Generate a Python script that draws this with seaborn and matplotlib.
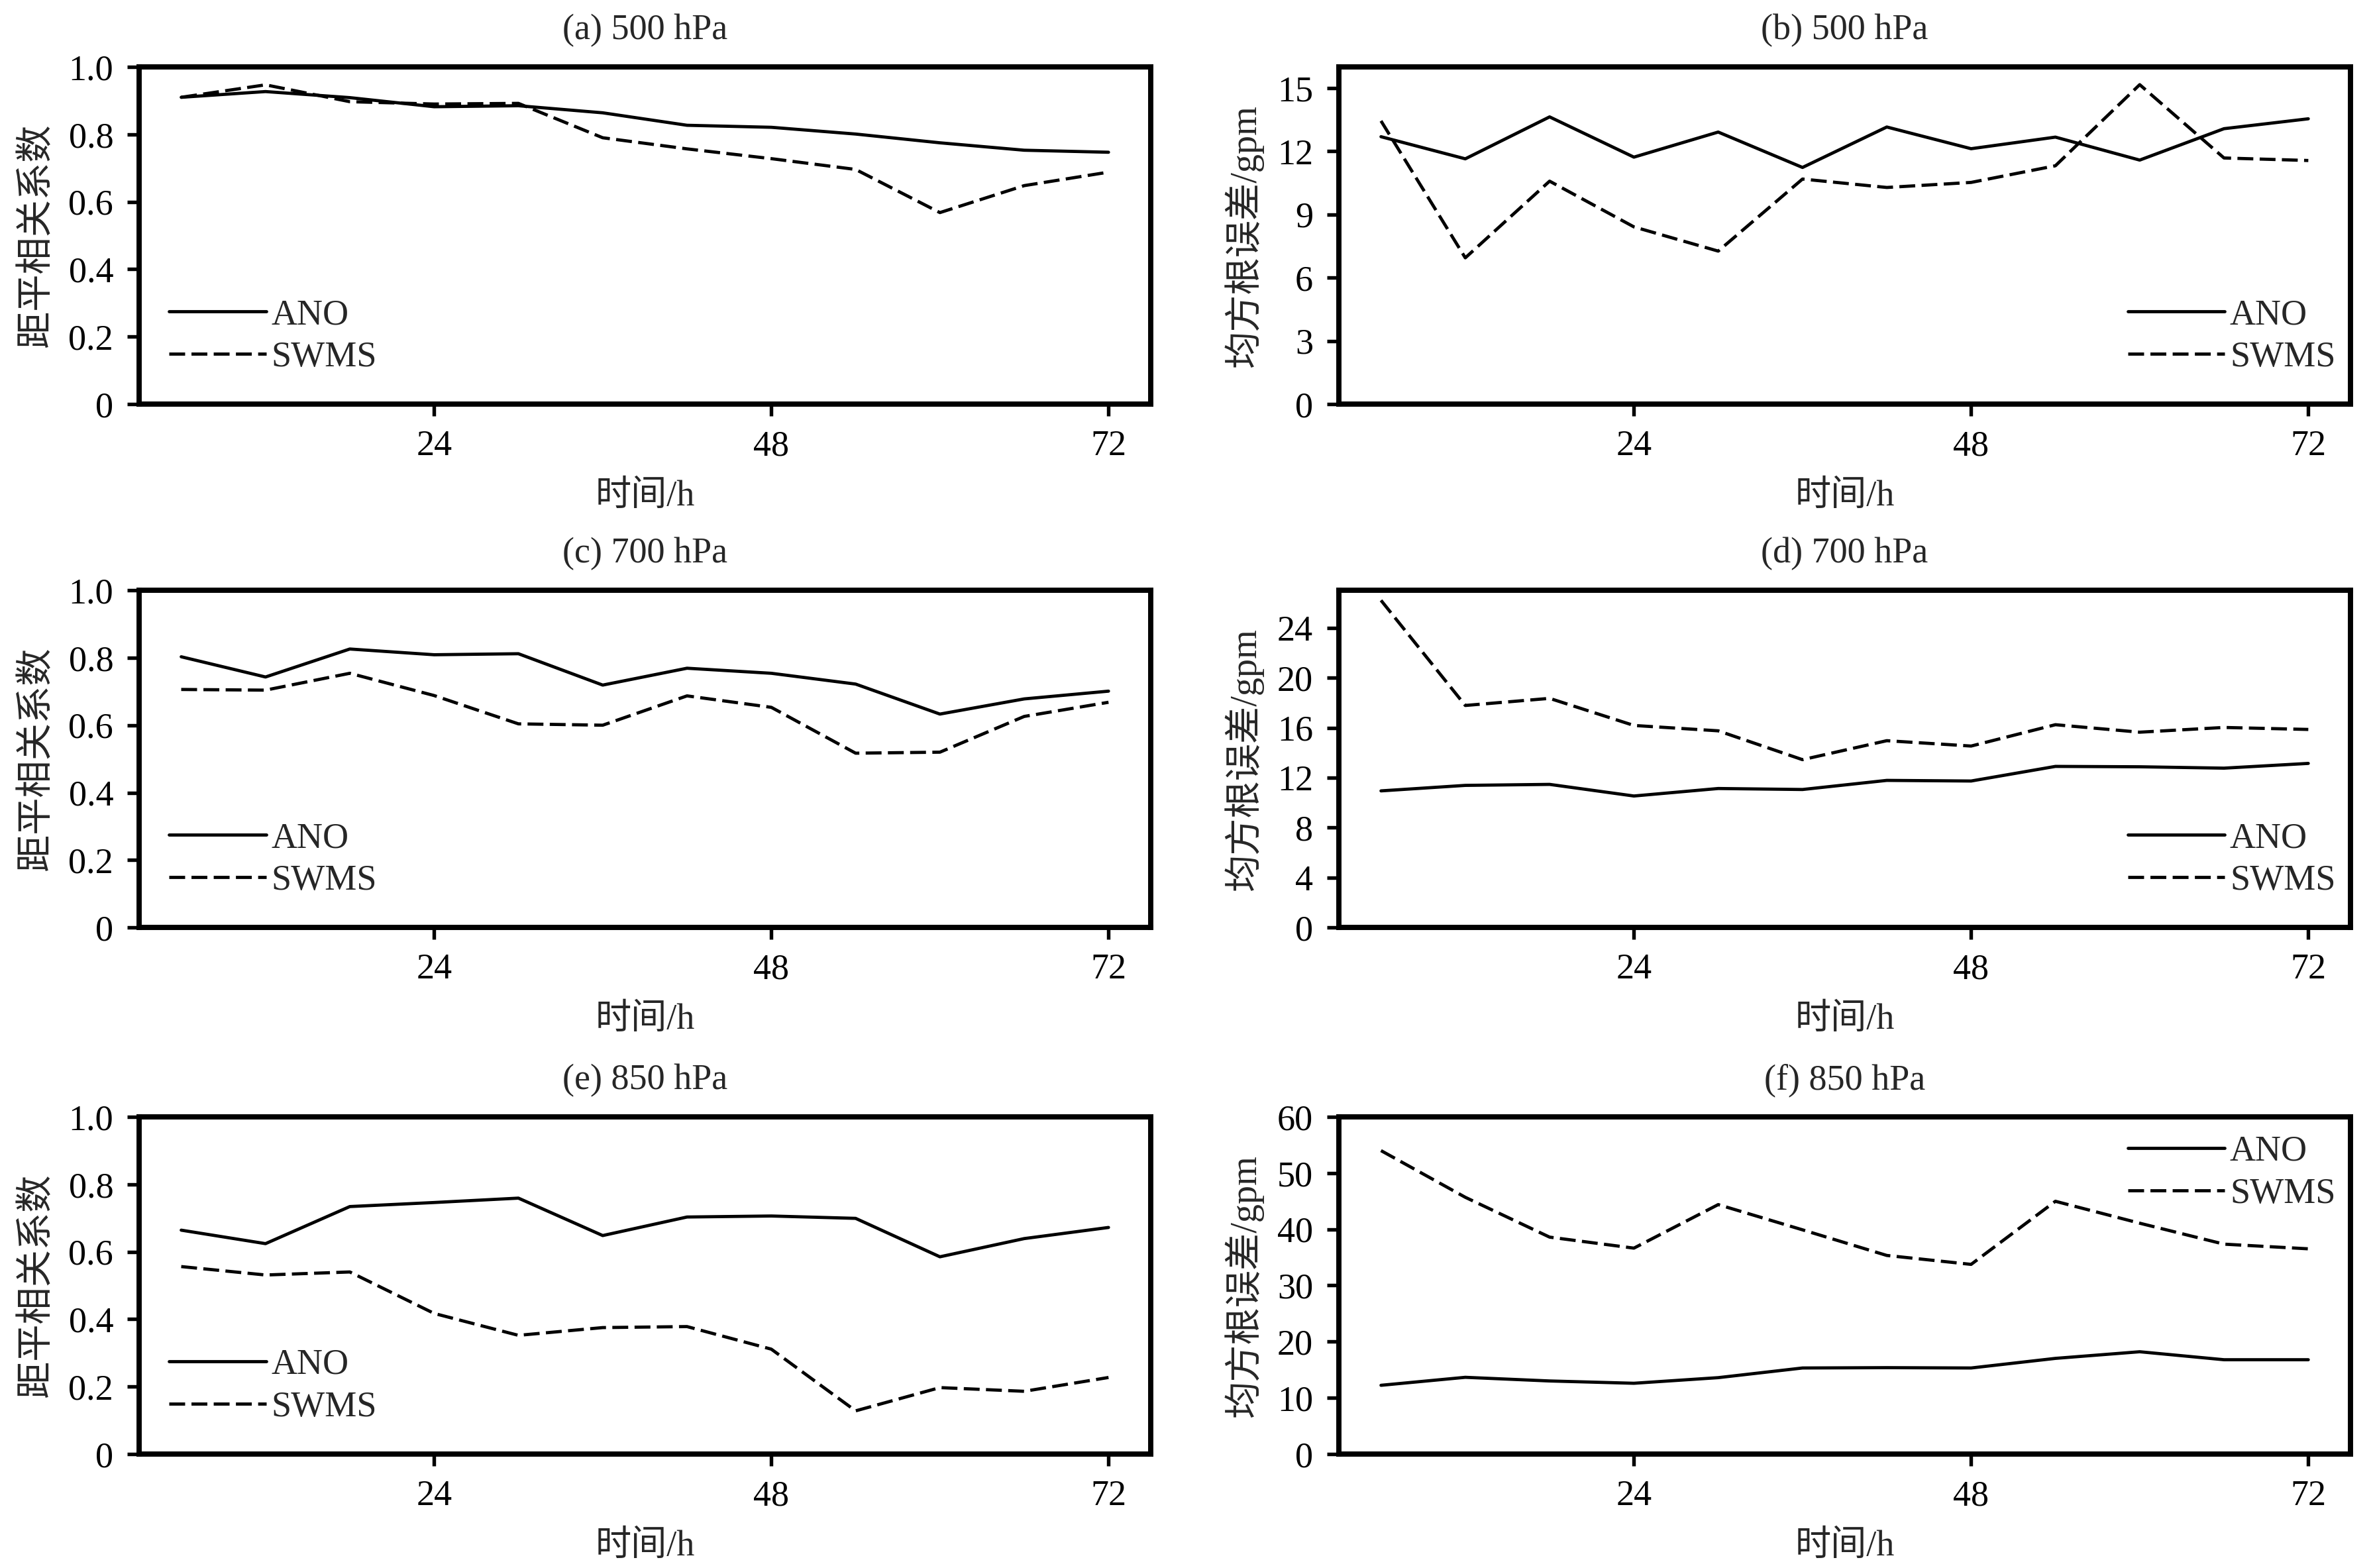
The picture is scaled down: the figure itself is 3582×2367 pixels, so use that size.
import pandas as pd
import numpy as np
import seaborn as sns
import matplotlib.pyplot as plt
from matplotlib.ticker import FuncFormatter

# forecast lead times (h)
hours = [6, 12, 18, 24, 30, 36, 42, 48, 54, 60, 66, 72]

# (a) 500 hPa anomaly correlation coefficient
acc500_ano = [0.910, 0.927, 0.909, 0.882, 0.885, 0.864, 0.827, 0.821, 0.801, 0.775, 0.753, 0.747]
acc500_swms = [0.910, 0.947, 0.897, 0.890, 0.892, 0.790, 0.757, 0.728, 0.696, 0.568, 0.648, 0.688]
# (b) 500 hPa RMSE (gpm)
rmse500_ano = [12.69, 11.64, 13.63, 11.72, 12.91, 11.23, 13.15, 12.12, 12.67, 11.58, 13.07, 13.54]
rmse500_swms = [13.44, 6.94, 10.58, 8.41, 7.26, 10.68, 10.28, 10.52, 11.31, 15.16, 11.68, 11.56]
# (c) 700 hPa ACC
acc700_ano = [0.803, 0.743, 0.826, 0.809, 0.812, 0.719, 0.769, 0.754, 0.722, 0.633, 0.678, 0.701]
acc700_swms = [0.706, 0.704, 0.754, 0.688, 0.604, 0.600, 0.687, 0.653, 0.517, 0.520, 0.626, 0.668]
# (d) 700 hPa RMSE
rmse700_ano = [10.94, 11.38, 11.46, 10.53, 11.13, 11.05, 11.78, 11.73, 12.90, 12.87, 12.76, 13.14]
rmse700_swms = [26.2, 17.78, 18.35, 16.18, 15.75, 13.44, 14.96, 14.53, 16.24, 15.64, 16.02, 15.86]
# (e) 850 hPa ACC
acc850_ano = [0.664, 0.624, 0.734, 0.746, 0.759, 0.648, 0.703, 0.706, 0.699, 0.585, 0.639, 0.672]
acc850_swms = [0.556, 0.531, 0.540, 0.417, 0.352, 0.375, 0.378, 0.311, 0.128, 0.197, 0.186, 0.227]
# (f) 850 hPa RMSE
rmse850_ano = [12.23, 13.65, 13.0, 12.59, 13.59, 15.31, 15.37, 15.31, 17.02, 18.20, 16.78, 16.78]
rmse850_swms = [54.0, 45.69, 38.6, 36.64, 44.39, 39.9, 35.34, 33.75, 44.98, 41.08, 37.35, 36.52]

titles = ['(a) 500 hPa', '(b) 500 hPa', '(c) 700 hPa', '(d) 700 hPa', '(e) 850 hPa', '(f) 850 hPa']
acc_label = '距平相关系数'
rmse_label = '均方根误差/gpm'
x_label = '时间/h'
models = ['ANO', 'SWMS']

panels = [
    (acc500_ano, acc500_swms, acc_label, 1.0, np.arange(0, 1.01, 0.2)),
    (rmse500_ano, rmse500_swms, rmse_label, 16, np.arange(0, 16, 3)),
    (acc700_ano, acc700_swms, acc_label, 1.0, np.arange(0, 1.01, 0.2)),
    (rmse700_ano, rmse700_swms, rmse_label, 27, np.arange(0, 25, 4)),
    (acc850_ano, acc850_swms, acc_label, 1.0, np.arange(0, 1.01, 0.2)),
    (rmse850_ano, rmse850_swms, rmse_label, 60, np.arange(0, 61, 10)),
]

# legend placement for each panel
legend_locs = [
    ('lower left', (0.012, 0.035)),
    ('lower right', (1.003, 0.035)),
    ('lower left', (0.012, 0.035)),
    ('lower right', (1.003, 0.035)),
    ('lower left', (0.012, 0.035)),
    ('upper right', (1.003, 1.0)),
]

sns.set_theme(style='ticks')
plt.rcParams['font.family'] = ['Liberation Serif', 'Noto Sans CJK SC']
plt.rcParams['axes.unicode_minus'] = False

fig = plt.figure(figsize=(11.94, 7.89), dpi=300)

lefts = [0.0586, 0.5642]
bottoms = [0.7423, 0.4085, 0.0727]
w, h = 0.4263, 0.2150

def tick_fmt(v, pos):
    if abs(v) < 1e-9:
        return '0'
    if abs(v - round(v)) < 1e-9 and v > 1.5:
        return f'{int(round(v))}'
    return f'{v:.1f}'

for i, (ano, swms, ylab, ytop, yticks) in enumerate(panels):
    ax = fig.add_axes([lefts[i % 2], bottoms[i // 2], w, h])
    df = pd.DataFrame({
        'hour': hours * 2,
        'value': list(ano) + list(swms),
        'model': [models[0]] * len(hours) + [models[1]] * len(hours),
    })
    sns.lineplot(data=df, x='hour', y='value', style='model', style_order=models,
                 dashes={'ANO': '', 'SWMS': (5.0, 2.0)}, color='black',
                 linewidth=1.15, ax=ax)
    ax.set_xlim(3, 75)
    ax.set_ylim(0, ytop)
    ax.set_xticks([24, 48, 72])
    ax.set_yticks(yticks)
    ax.yaxis.set_major_formatter(FuncFormatter(tick_fmt))
    for s in ax.spines.values():
        s.set_linewidth(1.9)
        s.set_color('black')
    ax.tick_params(direction='out', length=4.3, width=1.3, pad=5,
                   labelsize=13, colors='black')
    ax.set_title(titles[i], fontsize=13, pad=10)
    ax.set_xlabel(x_label, fontsize=13, labelpad=6)
    ax.set_ylabel(ylab, fontsize=13.5, labelpad=5)
    handles, labels = ax.get_legend_handles_labels()
    loc, anchor = legend_locs[i]
    ax.legend(handles, labels, loc=loc, bbox_to_anchor=anchor, frameon=False,
              fontsize=13, handlelength=2.7, handletextpad=0.15,
              labelspacing=0.25, borderpad=0.2, borderaxespad=0.3)

fig.savefig('out.png', dpi=300)
